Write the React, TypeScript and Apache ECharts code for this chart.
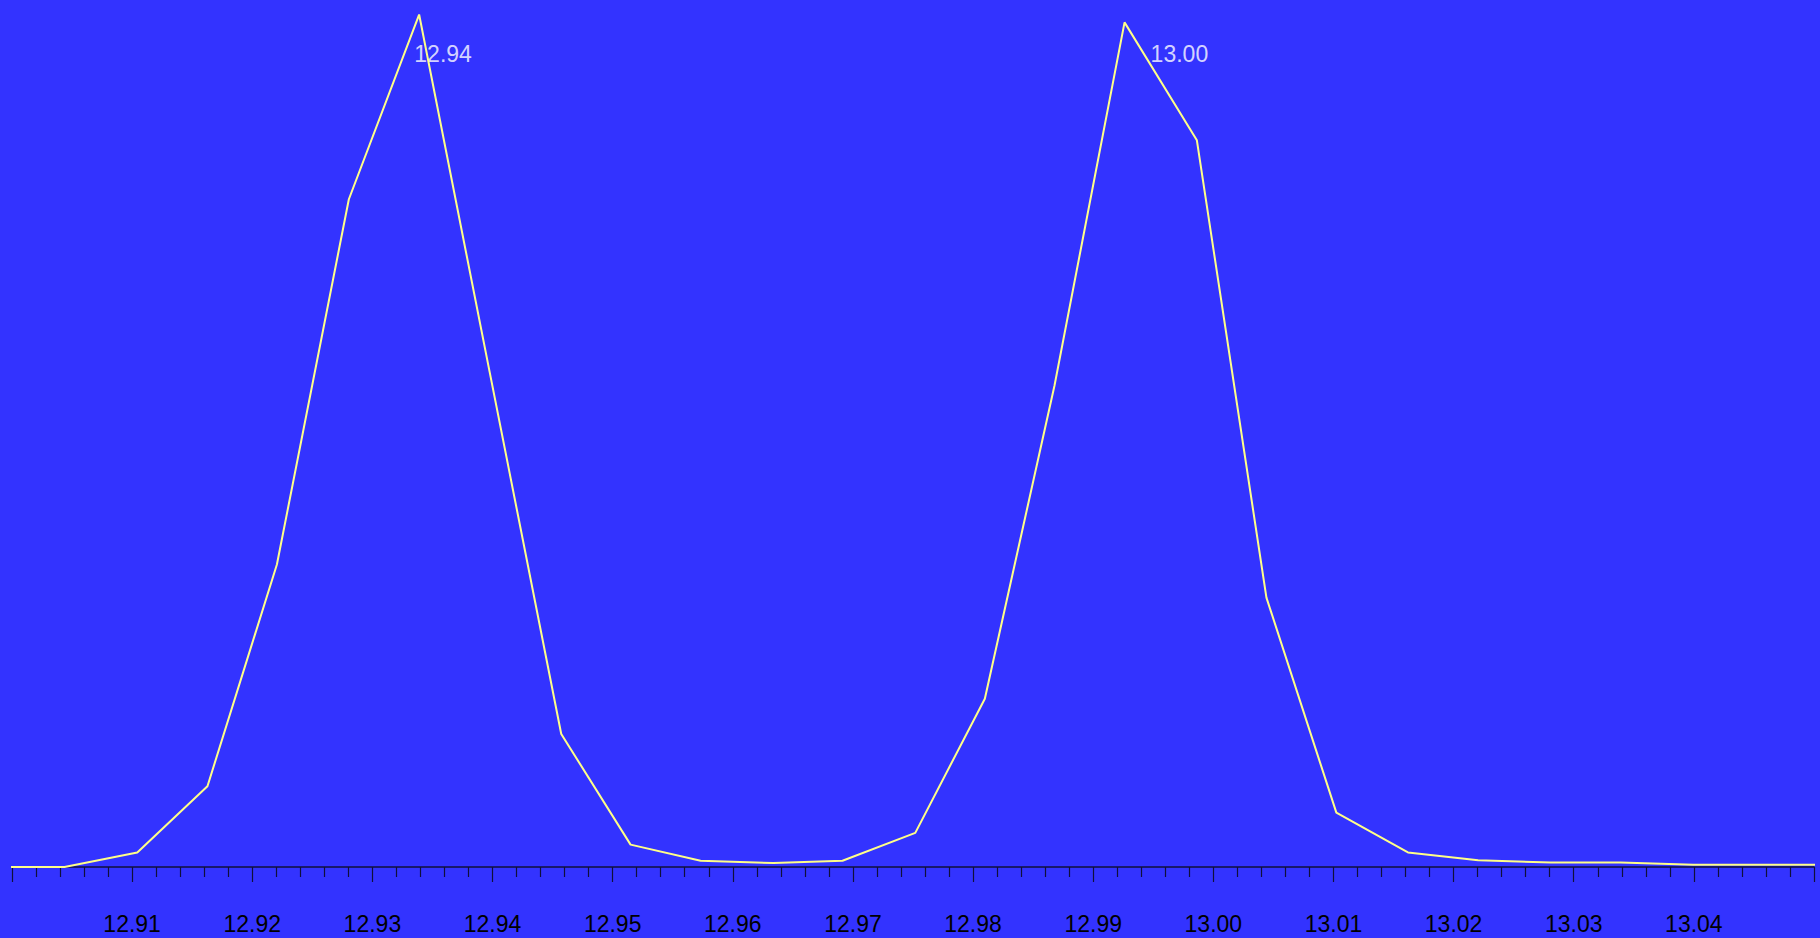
import React, { useEffect, useRef } from 'react';
import * as echarts from 'echarts';

// m/z positions of the profile points and their relative intensity
const mzValues = [
  12.8985, 12.90437, 12.91043, 12.91627, 12.92205, 12.92804, 12.93389, 12.93977,
  12.94572, 12.95149, 12.95732, 12.96338, 12.96913, 12.97519, 12.98098, 12.98678,
  12.99261, 12.99863, 13.00442, 13.01024, 13.0162, 13.02204, 13.02809, 13.0339,
  13.03995, 13.0458, 13.0516,
];
const intensities = [
  0, 0, 1.68, 9.32, 34.89, 77.02, 98.32, 57.02,
  15.34, 2.58, 0.72, 0.46, 0.72, 3.94, 19.41, 55.54,
  97.42, 83.82, 31.07, 6.27, 1.68, 0.77, 0.52, 0.52,
  0.25, 0.25, 0.25,
];

// peak annotations
const peakLabels = ['12.94', '13.00'];
const peakLabelX = [12.93349, 12.99478];
const peakLabelY = [93.8, 93.8];

const FONT = "'Liberation Sans', Arial, sans-serif";

const App: React.FC = () => {
  const chartRef = useRef<HTMLDivElement>(null);

  useEffect(() => {
    const chart = echarts.init(chartRef.current!, undefined, { renderer: 'svg' });
    const option: echarts.EChartsOption = {
      animation: false,
      backgroundColor: '#3333ff',
      grid: { left: 12, right: 6, top: 0, bottom: 71 },
      xAxis: {
        type: 'value',
        min: 12.9,
        max: 13.05,
        interval: 0.01,
        axisLine: { lineStyle: { color: '#10103a', width: 1.5 } },
        axisTick: { length: 15, lineStyle: { color: '#10103a', width: 1.2 } },
        minorTick: { show: true, splitNumber: 5, length: 10, lineStyle: { color: '#10103a', width: 1.2 } },
        splitLine: { show: false },
        axisLabel: {
          color: '#000',
          fontSize: 23,
          fontFamily: FONT,
          margin: 45,
          showMinLabel: false,
          showMaxLabel: false,
          formatter: (v: number) => v.toFixed(2),
        },
      },
      yAxis: {
        type: 'value',
        min: 0,
        max: 100,
        show: false,
      },
      series: [
        {
          type: 'line',
          data: mzValues.map((x, i) => [x, intensities[i]]),
          showSymbol: false,
          clip: true,
          lineStyle: { color: '#ffff88', width: 2 },
        },
        {
          type: 'scatter',
          symbolSize: 0,
          data: peakLabelX.map((x, i) => [x, peakLabelY[i]]),
          label: {
            show: true,
            position: 'right',
            distance: 0,
            color: '#ffffff',
            fontSize: 23,
            fontFamily: FONT,
            formatter: (p: any) => peakLabels[p.dataIndex],
          },
        },
      ],
    };
    chart.setOption(option);
    return () => {
      chart.dispose();
    };
  }, []);

  return (
    <div
      ref={chartRef}
      style={{ position: 'fixed', left: 0, top: 0, width: '1820px', height: '938px' }}
    />
  );
};

export default App;
